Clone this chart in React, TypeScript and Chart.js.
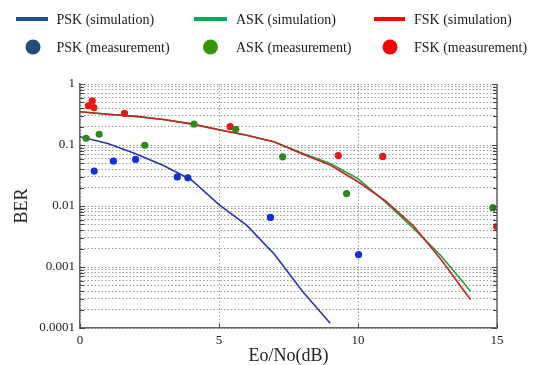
import React, { useEffect, useRef } from "react";
import { Chart, registerables } from "chart.js";

Chart.register(...registerables);

// ---- data (Eo/No in dB, BER) ----
const pskSimDb = [0, 1, 2, 3, 4, 5, 6, 7, 8, 9];
const pskSimBer = [0.137, 0.106, 0.072, 0.046, 0.027, 0.0105, 0.0048, 0.0016, 0.0004, 0.00012];

const askSimDb = [0, 1, 2, 3, 4, 5, 6, 7, 8, 9, 10, 11, 12, 13, 14.05];
const askSimBer = [0.35, 0.32, 0.295, 0.262, 0.222, 0.178, 0.145, 0.112, 0.073, 0.05, 0.028, 0.0115, 0.0043, 0.0015, 0.0004];

const fskSimDb = [0, 1, 2, 3, 4, 5, 6, 7, 8, 9, 10, 11, 12, 13, 14.05];
const fskSimBer = [0.35, 0.32, 0.295, 0.262, 0.222, 0.178, 0.145, 0.112, 0.071, 0.047, 0.025, 0.012, 0.0047, 0.0013, 0.00029];

const pskMeasDb = [0.51, 1.2, 2.0, 3.5, 3.88, 6.85, 10.02];
const pskMeasBer = [0.0375, 0.0547, 0.058, 0.03, 0.029, 0.0065, 0.0016];

const askMeasDb = [0.22, 0.69, 2.33, 4.1, 5.6, 7.29, 9.59, 14.85];
const askMeasBer = [0.129, 0.15, 0.099, 0.221, 0.181, 0.064, 0.016, 0.0094];

const fskMeasDb = [0.3, 0.44, 0.5, 1.6, 5.4, 9.29, 10.89, 14.99];
const fskMeasBer = [0.44, 0.53, 0.41, 0.33, 0.2, 0.067, 0.065, 0.0046];

const xTickValues = [0, 5, 10, 15];
const yDecadeValues = [1, 0.1, 0.01, 0.001, 0.0001];
const yTickLabels = ["1", "0.1", "0.01", "0.001", "0.0001"];
const minorMultipliers = [2, 3, 4, 5, 6, 7, 8, 9];

const legendLabels = [
  "PSK (simulation)",
  "ASK (simulation)",
  "FSK (simulation)",
  "PSK (measurement)",
  "ASK (measurement)",
  "FSK (measurement)",
];
const xTitle = "Eo/No(dB)";
const yTitle = "BER";

const FONT = "'Liberation Serif', 'Times New Roman', serif";

const pairs = (xs: number[], ys: number[]) => xs.map((x, i) => ({ x, y: ys[i] }));

const yTickValues: number[] = (() => {
  const out: number[] = [];
  yDecadeValues.forEach((d) => {
    out.push(d);
    if (d < 1) minorMultipliers.forEach((m) => out.push(+(d * m).toPrecision(6)));
  });
  return out.sort((a, b) => a - b);
})();

const labelFor = (v: number) => {
  const i = yDecadeValues.findIndex((d) => Math.abs(Math.log10(v) - Math.log10(d)) < 1e-6);
  return i >= 0 ? yTickLabels[i] : "";
};

const framePlugin = {
  id: "frame",
  afterDatasetsDraw(chart: any) {
    const { ctx, chartArea, scales } = chart;
    const { left, right, top, bottom } = chartArea;
    ctx.save();
    ctx.strokeStyle = "#666";
    ctx.lineWidth = 1.5;
    ctx.beginPath();
    ctx.moveTo(right, top);
    ctx.lineTo(right, bottom);
    ctx.stroke();
    ctx.lineWidth = 1;
    ctx.strokeStyle = "#444";
    scales.y.ticks.forEach((t: any) => {
      const y = Math.round(scales.y.getPixelForValue(t.value)) + 0.5;
      const len = labelFor(t.value) ? 5 : 4;
      ctx.beginPath();
      ctx.moveTo(left, y);
      ctx.lineTo(left + len, y);
      ctx.moveTo(right, y);
      ctx.lineTo(right - len, y);
      ctx.stroke();
    });
    scales.x.ticks.forEach((t: any) => {
      const x = Math.round(scales.x.getPixelForValue(t.value)) + 0.5;
      ctx.beginPath();
      ctx.moveTo(x, bottom);
      ctx.lineTo(x, bottom - 4);
      ctx.stroke();
    });
    ctx.restore();
  },
};

const legendPlugin = {
  id: "customLegend",
  afterDraw(chart: any) {
    const { ctx } = chart;
    ctx.save();
    ctx.font = `14px ${FONT}`;
    ctx.textBaseline = "middle";
    ctx.textAlign = "left";
    ctx.fillStyle = "#1a1a1a";
    const lineColors = ["#1f4e8c", "#00b050", "#ff0000"];
    const dotColors = ["#1f4e79", "#339900", "#ff0000"];
    const cols = [
      { sw0: 16, sw1: 48, dot: 33, text: 56.5 },
      { sw0: 194, sw1: 227, dot: 210.5, text: 236 },
      { sw0: 374, sw1: 405, dot: 390, text: 414 },
    ];
    cols.forEach((c, i) => {
      ctx.strokeStyle = lineColors[i];
      ctx.lineWidth = 4;
      ctx.beginPath();
      ctx.moveTo(c.sw0, 19);
      ctx.lineTo(c.sw1, 19);
      ctx.stroke();
      ctx.fillText(legendLabels[i], c.text, 20);
      ctx.fillStyle = dotColors[i];
      ctx.beginPath();
      ctx.ellipse(c.dot, 47, 7.5, 7.5, 0, 0, Math.PI * 2);
      ctx.fill();
      ctx.fillStyle = "#1a1a1a";
      ctx.fillText(legendLabels[i + 3], c.text, 48);
    });
    ctx.restore();
  },
};

export default function App() {
  const ref = useRef<HTMLCanvasElement | null>(null);

  useEffect(() => {
    if (!ref.current) return;
    const pointDs = (label: string, xs: number[], ys: number[], color: string) => ({
      label,
      data: pairs(xs, ys),
      showLine: false,
      pointRadius: 3.6,
      pointHoverRadius: 3.6,
      pointBackgroundColor: color,
      pointBorderColor: color,
      pointBorderWidth: 0,
      backgroundColor: color,
      borderColor: color,
    });
    const lineDs = (label: string, xs: number[], ys: number[], color: string) => ({
      label,
      data: pairs(xs, ys),
      showLine: true,
      borderColor: color,
      backgroundColor: color,
      borderWidth: 1.6,
      pointRadius: 0,
      tension: 0,
      fill: false,
    });

    const gridCommon = {
      color: "#9c9c9c",
      lineWidth: 1,
      drawTicks: false,
    };
    const borderCommon = { color: "#666", width: 1.5, dash: [1.5, 2] };

    const chart = new Chart(ref.current, {
      type: "scatter",
      data: {
        datasets: [
          pointDs(legendLabels[3], pskMeasDb, pskMeasBer, "#1030e0"),
          pointDs(legendLabels[4], askMeasDb, askMeasBer, "#2a8a1a"),
          pointDs(legendLabels[5], fskMeasDb, fskMeasBer, "#ee1515"),
          lineDs(legendLabels[2], fskSimDb, fskSimBer, "#c82323"),
          lineDs(legendLabels[1], askSimDb, askSimBer, "#22a03c"),
          lineDs(legendLabels[0], pskSimDb, pskSimBer, "#2636b0"),
        ] as any,
      },
      options: {
        animation: false,
        responsive: false,
        maintainAspectRatio: false,
        layout: { padding: { top: 84, right: 38, left: 0, bottom: 0 } },
        plugins: {
          legend: { display: false },
          tooltip: { enabled: false },
          title: { display: false },
        },
        scales: {
          x: {
            type: "linear",
            min: 0,
            max: 15,
            afterBuildTicks: (s: any) => {
              s.ticks = xTickValues.map((v) => ({ value: v }));
            },
            afterFit: (s: any) => {
              s.height = 37;
            },
            ticks: {
              autoSkip: false,
              maxRotation: 0,
              padding: 5,
              color: "#222",
              font: { family: FONT, size: 13 },
              callback: (v: any) => String(v),
            },
            grid: gridCommon,
            border: borderCommon,
            title: {
              display: true,
              text: xTitle,
              color: "#222",
              font: { family: FONT, size: 18, lineHeight: 1 },
              padding: 0,
            },
          },
          y: {
            type: "logarithmic",
            min: 0.0001,
            max: 1,
            afterBuildTicks: (s: any) => {
              s.ticks = yTickValues.map((v) => ({ value: v }));
            },
            afterFit: (s: any) => {
              s.width = 80;
            },
            ticks: {
              autoSkip: false,
              padding: 5,
              color: "#222",
              font: { family: FONT, size: 13 },
              callback: (v: any) => labelFor(Number(v)),
            },
            grid: gridCommon,
            border: borderCommon,
            title: {
              display: true,
              text: yTitle,
              color: "#222",
              font: { family: FONT, size: 18, lineHeight: 1.2 },
              padding: { top: 11, bottom: 0 },
            },
          },
        },
      } as any,
      plugins: [framePlugin, legendPlugin],
    });
    return () => chart.destroy();
  }, []);

  return (
    <div style={{ position: "absolute", left: 0, top: 0, width: 535, height: 365, background: "#fff" }}>
      <canvas ref={ref} width={535} height={365} style={{ display: "block" }} />
    </div>
  );
}
